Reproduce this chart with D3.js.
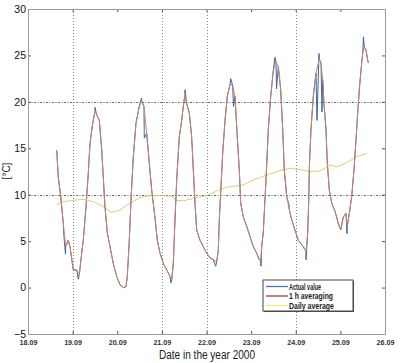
<!DOCTYPE html>
<html><head><meta charset="utf-8">
<script src="https://cdn.jsdelivr.net/npm/d3@7"></script>
<style>
html,body{margin:0;padding:0;background:#fff;}
svg{display:block;}
</style></head>
<body>
<script>
// ---- data (time in days of September 2000, temperature in °C) ----
const hourTime = [18.643,18.679,18.733,18.791,18.845,18.903,18.941,19.015,19.091,19.150,19.203,19.239,19.300,19.351,19.389,19.450,19.501,19.539,19.598,19.652,19.687,19.725,19.777,19.838,19.911,19.988,20.062,20.136,20.196,20.225,20.270,20.308,20.360,20.420,20.494,20.548,20.599,20.660,20.718,20.772,20.846,20.898,20.958,21.032,21.108,21.182,21.220,21.256,21.294,21.332,21.390,21.444,21.480,21.518,21.556,21.615,21.668,21.704,21.742,21.780,21.854,21.928,22.005,22.078,22.152,22.229,22.264,22.287,22.325,22.363,22.415,22.466,22.527,22.587,22.639,22.690,22.735,22.766,22.825,22.901,22.975,23.049,23.125,23.183,23.215,23.237,23.273,23.333,23.385,23.439,23.497,23.557,23.609,23.663,23.708,23.743,23.797,23.855,23.909,23.983,24.057,24.169,24.230,24.269,24.291,24.308,24.342,24.393,24.454,24.528,24.566,24.604,24.633,24.678,24.707,24.752,24.806,24.880,24.954,25.007,25.066,25.126,25.155,25.200,25.254,25.305,25.350,25.388,25.424,25.462,25.500,25.536,25.574,25.612,25.626];
const hourTemp = [14.8,11.9,9.8,6.9,4.4,5.1,4.4,1.9,1.9,1.4,3.7,5.1,8.7,12.3,15.5,17.7,19.0,18.6,18.0,14.8,11.9,8.7,5.9,4.4,2.6,1.2,0.3,0.0,0.1,1.2,5.1,9.4,14.1,17.7,19.5,20.1,19.5,16.6,13.4,10.5,7.5,5.1,3.7,2.6,1.9,1.2,0.8,2.6,7.3,11.6,16.2,18.0,19.5,20.8,19.8,18.8,16.2,12.7,9.1,6.2,5.1,4.4,3.7,3.2,3.0,2.8,4.0,7.3,10.9,14.5,18.0,20.6,21.9,21.7,20.6,16.2,12.7,9.1,7.6,6.6,5.5,4.4,3.7,3.0,3.0,4.4,6.0,11.6,17.0,20.6,23.4,24.3,23.8,21.3,17.0,12.7,9.8,8.4,7.3,6.2,5.1,4.4,3.9,6.0,9.5,13.4,17.0,20.6,23.1,24.6,24.2,22.4,19.8,17.0,13.4,10.5,9.1,8.2,6.9,6.2,7.6,8.0,6.6,8.0,9.8,12.7,15.9,18.8,21.3,23.4,25.2,25.9,25.6,24.5,24.2];
// extra excursions of the raw measured value (actual value)
const spikeTime = [18.800,18.840,19.127,19.501,20.543,20.606,21.204,21.518,22.206,22.543,22.605,23.221,23.535,23.569,23.849,24.230,24.476,24.521,24.588,25.149,25.518];
const spikeTemp = [5.8,3.6,0.9,19.4,20.4,16.1,0.5,21.3,2.3,22.5,19.5,2.3,24.8,21.4,8.9,3.0,18.0,25.2,18.9,5.8,27.0];
const dailyTime = [18.643,18.791,19.015,19.239,19.463,19.687,19.876,20.062,20.286,20.510,20.734,21.032,21.250,21.300,21.480,21.704,22.005,22.229,22.453,22.825,23.049,23.349,23.647,23.871,24.095,24.319,24.543,24.767,24.918,25.142,25.366,25.590];
const dailyTemp = [8.9,9.25,9.4,9.5,9.25,8.7,8.1,8.35,9.1,9.7,9.9,9.9,9.8,9.4,9.35,9.6,9.9,10.4,10.8,11.05,11.6,12.1,12.6,12.85,12.7,12.5,12.55,13.2,13.0,13.45,14.1,14.45];
const xTicks = [18,19,20,21,22,23,24,25,26];
const xTickLabels = ["18.09","19.09","20.09","21.09","22.09","23.09","24.09","25.09","26.09"];
const yTicks = [-5,0,5,10,15,20,25,30];
const xGrid = [19,21,22,24];
const yGrid = [10,20];
const seriesNames = ["Actual value","1 h averaging","Daily average"];
const seriesColors = ["#4a78b4","#a8442c","#f0e488"];

// ---- layout ----
const W = 400, H = 363;
const m = {left:28, top:9, right:385, bottom:334};
const svg = d3.select("body").append("svg").attr("width",W).attr("height",H);

const x = d3.scaleLinear().domain([18,26]).range([m.left,m.right]);
const y = d3.scaleLinear().domain([-5,30]).range([m.bottom,m.top]);
const FONT = "'Liberation Sans',Arial,sans-serif";

// grid
const g = svg.append("g");
g.selectAll(".gx").data(xGrid).enter().append("line")
  .attr("x1",d=>Math.round(x(d))+0.5).attr("x2",d=>Math.round(x(d))+0.5).attr("y1",m.top).attr("y2",m.bottom)
  .attr("stroke","#666").attr("stroke-width",0.8).attr("stroke-dasharray","1,2");
g.selectAll(".gy").data(yGrid).enter().append("line")
  .attr("y1",d=>Math.round(y(d))+0.5).attr("y2",d=>Math.round(y(d))+0.5).attr("x1",m.left).attr("x2",m.right)
  .attr("stroke","#444").attr("stroke-width",0.8).attr("stroke-dasharray","2,1.5,1,1.5");

// series
const actual = hourTime.map((t,i)=>[t,hourTemp[i]])
  .concat(spikeTime.map((t,i)=>[t+0.0001,spikeTemp[i]]))
  .sort((a,b)=>a[0]-b[0]);
const hourly = hourTime.map((t,i)=>[t,hourTemp[i]]);
const daily = dailyTime.map((t,i)=>[t,dailyTemp[i]]);
const line = d3.line().x(d=>x(d[0])).y(d=>y(d[1]));

svg.append("path").datum(daily).attr("d",line).attr("fill","none")
  .attr("stroke","#d9c666").attr("stroke-width",0.9);
svg.append("path").datum(actual).attr("d",line).attr("fill","none")
  .attr("stroke","#3a64a8").attr("stroke-width",1.0);
svg.append("path").datum(hourly).attr("d",line).attr("fill","none")
  .attr("stroke","#c98567").attr("stroke-width",1.0);

// axes
const axB = svg.append("g").attr("transform",`translate(0,${m.bottom})`)
  .call(d3.axisBottom(x).tickValues(xTicks).tickFormat((d,i)=>xTickLabels[i]).tickSizeInner(-3).tickSizeOuter(0).tickPadding(6));
const axT = svg.append("g").attr("transform",`translate(0,${m.top})`)
  .call(d3.axisTop(x).tickValues(xTicks).tickFormat("").tickSizeInner(-3).tickSizeOuter(0));
const axL = svg.append("g").attr("transform",`translate(${m.left},0)`)
  .call(d3.axisLeft(y).tickValues(yTicks).tickSizeInner(-3).tickSizeOuter(0).tickPadding(2));
const axR = svg.append("g").attr("transform",`translate(${m.right},0)`)
  .call(d3.axisRight(y).tickValues(yTicks).tickFormat("").tickSizeInner(-3).tickSizeOuter(0));
[axB,axT,axL,axR].forEach(a=>{
  a.select(".domain").remove();
  a.selectAll("line").attr("stroke","#555");
});
axB.selectAll("text").attr("font-family",FONT)
  .attr("font-weight","bold").attr("font-size","7.5px").attr("fill","#333")
  .attr("textLength",18).attr("lengthAdjust","spacingAndGlyphs");
axL.selectAll("text").attr("font-family",FONT)
  .attr("font-size","10.5px").attr("fill","#111");

// frame
svg.append("rect").attr("x",m.left+0.5).attr("y",m.top+0.5)
  .attr("width",m.right-m.left).attr("height",m.bottom-m.top)
  .attr("fill","none").attr("stroke","#999").attr("stroke-width",1);

// labels
svg.append("text").attr("x",159).attr("y",359)
  .attr("font-family",FONT).attr("font-size","12.5px")
  .attr("textLength",96).attr("lengthAdjust","spacingAndGlyphs")
  .attr("fill","#222").text("Date in the year 2000");
svg.append("text").attr("transform","translate(10,171) rotate(-90)").attr("text-anchor","middle")
  .attr("font-family",FONT).attr("font-size","10px")
  .attr("fill","#222").text("[°C]");

// legend
const lg = svg.append("g");
const lx = 263, ly = 280, lw = 90, lh = 31;
lg.append("rect").attr("x",lx+1).attr("y",ly+1).attr("width",lw).attr("height",lh).attr("fill","#555");
lg.append("rect").attr("x",lx).attr("y",ly).attr("width",lw).attr("height",lh)
  .attr("fill","#fff").attr("stroke","#444").attr("stroke-width",1);
const legendLen = [32,44,45];
seriesNames.forEach((n,i)=>{
  const yy = ly + 6.5 + i*9.5;
  lg.append("line").attr("x1",lx+3).attr("x2",lx+25).attr("y1",yy).attr("y2",yy)
    .attr("stroke",seriesColors[i]).attr("stroke-width",1.3);
  lg.append("text").attr("x",lx+26).attr("y",yy+3)
    .attr("font-family",FONT).attr("font-weight","bold")
    .attr("font-size","8.5px").attr("fill","#222")
    .attr("textLength",legendLen[i]).attr("lengthAdjust","spacingAndGlyphs").text(n);
});
</script>
</body></html>
